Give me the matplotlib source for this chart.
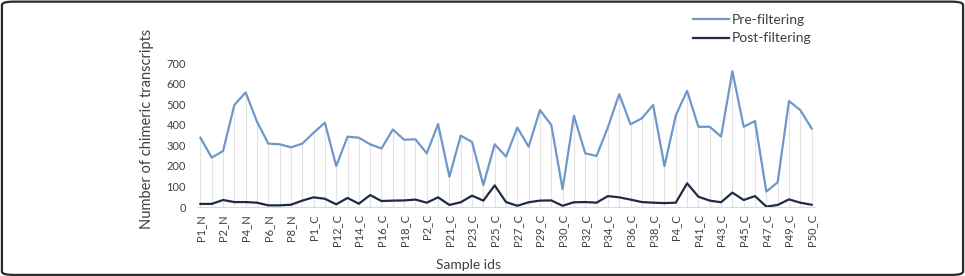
import matplotlib.pyplot as plt
from matplotlib.patches import FancyBboxPatch

plt.rcParams['font.family'] = ['Lato', 'DejaVu Sans']

# every other sample gets a tick label
tick_labels = ["P1_N", "P2_N", "P4_N", "P6_N", "P8_N", "P1_C", "P12_C", "P14_C",
               "P16_C", "P18_C", "P2_C", "P21_C", "P23_C", "P25_C", "P27_C", "P29_C",
               "P30_C", "P32_C", "P34_C", "P36_C", "P38_C", "P4_C", "P41_C", "P43_C",
               "P45_C", "P47_C", "P49_C", "P50_C"]

pre_filtering = [337, 240, 272, 496, 557, 415, 308, 305, 290, 308, 361, 410, 199, 342,
                 337, 305, 284, 377, 327, 329, 261, 403, 147, 347, 316, 107, 305, 245,
                 386, 293, 471, 399, 87, 444, 261, 248, 387, 549, 402, 431, 496, 199,
                 445, 565, 390, 390, 342, 660, 390, 418, 75, 120, 515, 471, 382]

post_filtering = [15, 15, 34, 24, 24, 21, 8, 8, 11, 31, 47, 40, 13, 44, 16, 58, 29, 31,
                  32, 36, 21, 47, 10, 23, 55, 31, 105, 24, 6, 23, 31, 32, 6, 23, 24, 21,
                  53, 47, 36, 24, 21, 19, 21, 115, 50, 31, 23, 70, 34, 53, 2, 10, 37, 21, 11]

BLUE = "#6F98CA"
NAVY = "#1E2B44"

x = list(range(len(pre_filtering)))

fig = plt.figure(figsize=(9.65, 2.76), dpi=100)
ax = fig.add_axes([197 / 965, 1 - 207 / 276, (815 - 197) / 965, (207 - 63) / 276])

ax.vlines(x, 0, pre_filtering, color="#E3E3E3", lw=0.8, zorder=1)
ax.plot(x, pre_filtering, color=BLUE, lw=1.6, label="Pre-filtering", zorder=3)
ax.plot(x, post_filtering, color=NAVY, lw=1.6, label="Post-filtering", zorder=4)

ax.set_xlim(-0.3, len(x) - 0.7)
ax.set_ylim(0, 700)
ax.set_yticks(range(0, 701, 100))
ax.set_xticks(x[::2])
ax.set_xticklabels(tick_labels, rotation=90, fontsize=8, color="#404040")
ax.tick_params(axis="y", labelsize=8, labelcolor="#404040", length=0, pad=8)
ax.tick_params(axis="x", length=0, pad=5)

for side in ["top", "right", "left"]:
    ax.spines[side].set_visible(False)
ax.spines["bottom"].set_color("#D9D9D9")
ax.spines["bottom"].set_linewidth(0.8)

fig.text(147 / 965, 1 - 129 / 276, "Number of chimeric transcripts", rotation=90,
         ha="center", va="center", fontsize=10.5, color="#404040")
fig.text(468 / 965, 1 - 265 / 276, "Sample ids", ha="center", va="center",
         fontsize=10, color="#404040")

fig.legend(loc="upper left", bbox_to_anchor=(680 / 965, 1 - 1 / 276), frameon=False,
           fontsize=10, handlelength=2.6, handletextpad=0.2, labelspacing=0.5,
           labelcolor="#404040")

# rounded frame around the whole figure
frame = FancyBboxPatch((0.002, 0.004), 0.996, 0.99, boxstyle="round,pad=0,rounding_size=0.012",
                       transform=fig.transFigure, fill=False, edgecolor="#2B2B2B", lw=1.6)
fig.patches.append(frame)

fig.savefig("out.png", dpi=100)
